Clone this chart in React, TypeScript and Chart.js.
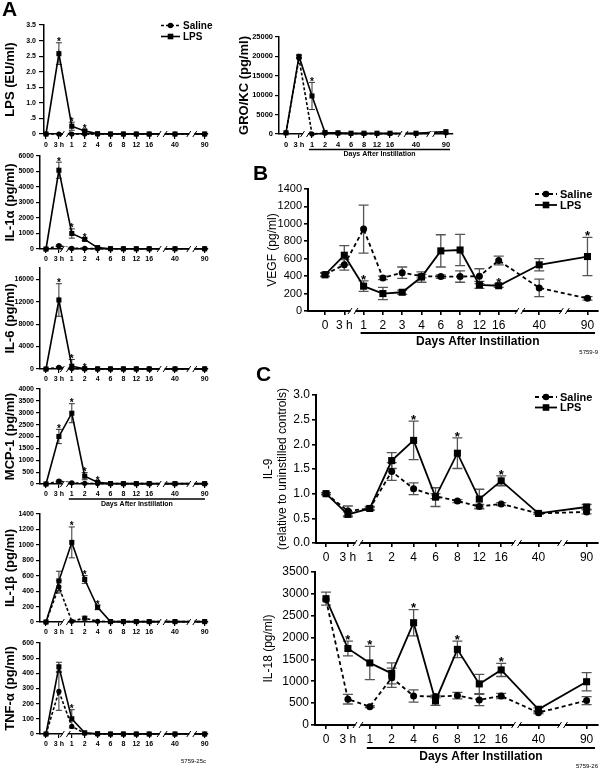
import React, { useEffect, useRef } from 'react';
import { Chart, registerables } from 'chart.js';
Chart.register(...registerables);

const FONT = '"Liberation Sans", Arial, Helvetica, sans-serif';

// ---------- categories / tick labels ----------
const seriesNames = ['Saline', 'LPS'];
const daysA = ['0', '3 h', '1', '2', '4', '6', '8', '12', '16', '40', '90'];
const daysB = ['0', '3 h', '1', '2', '3', '4', '6', '8', '12', '16', '40', '90'];
// slot positions on the broken time axis
const slotsA = [0, 1, 2, 3, 4, 5, 6, 7, 8, 10, 12.3];
const slotsB = [0, 1, 2, 3, 4, 5, 6, 7, 8, 9, 11.1, 13.6];
const slotsC = [0, 1, 2, 3, 4, 5, 6, 7, 8, 9.7, 11.9];
const xTitle = 'Days After Instillation';

// ---------- Panel A ----------
const lpsSaline = [0, 0, 0, 0, 0, 0, 0, 0, 0, 0, 0];
const lpsSalineErr = [0, 0, 0, 0, 0, 0, 0, 0, 0, 0, 0];
const lpsLps = [0, 2.58, 0.25, 0.1, 0.01, 0, 0, 0, 0, 0, 0];
const lpsLpsErr = [0, 0.35, 0.13, 0.03, 0, 0, 0, 0, 0, 0, 0];
const lpsStars = [1, 2, 3];

const il1aSaline = [0, 214, 40, 40, 20, 15, 15, 15, 15, 15, 15];
const il1aSalineErr = [0, 60, 30, 20, 0, 0, 0, 0, 0, 0, 0];
const il1aLps = [0, 5080, 1000, 620, 90, 20, 15, 15, 15, 15, 15];
const il1aLpsErr = [0, 520, 300, 80, 30, 0, 0, 0, 0, 0, 0];
const il1aStars = [1, 2, 3];

const il6Saline = [0, 300, 80, 40, 20, 20, 20, 20, 20, 20, 20];
const il6SalineErr = [0, 100, 0, 0, 0, 0, 0, 0, 0, 0, 0];
const il6Lps = [0, 12300, 500, 50, 20, 20, 20, 20, 20, 20, 20];
const il6LpsErr = [0, 2900, 1200, 50, 0, 0, 0, 0, 0, 0, 0];
const il6Stars = [1, 2, 3];

const mcpSaline = [0, 120, 50, 30, 20, 15, 15, 15, 15, 15, 15];
const mcpSalineErr = [0, 40, 20, 0, 0, 0, 0, 0, 0, 0, 0];
const mcpLps = [0, 2000, 2980, 330, 70, 20, 15, 15, 15, 15, 15];
const mcpLpsErr = [0, 300, 400, 150, 40, 0, 0, 0, 0, 0, 0];
const mcpStars = [1, 2, 3, 4];

const il1bSaline = [0, 455, 10, 50, 10, 5, 5, 5, 5, 5, 5];
const il1bSalineErr = [0, 80, 0, 25, 0, 0, 0, 0, 0, 0, 0];
const il1bLps = [0, 533, 1032, 551, 190, 5, 5, 5, 5, 5, 5];
const il1bLpsErr = [0, 125, 200, 50, 30, 0, 0, 0, 0, 0, 0];
const il1bStars = [2, 3, 4];

const tnfSaline = [0, 281, 50, 5, 0, 0, 0, 0, 0, 0, 0];
const tnfSalineErr = [0, 125, 0, 0, 0, 0, 0, 0, 0, 0, 0];
const tnfLps = [0, 443, 100, 8, 2, 0, 0, 0, 0, 0, 0];
const tnfLpsErr = [0, 30, 60, 0, 0, 0, 0, 0, 0, 0, 0];
const tnfStars = [2];

const groSaline = [300, 19500, 0, 200, 200, 100, 100, 100, 100, 100, 300];
const groSalineErr = [0, 0, 0, 0, 0, 0, 0, 0, 0, 0, 0];
const groLps = [300, 20000, 9800, 400, 300, 200, 200, 200, 200, 200, 600];
const groLpsErr = [0, 300, 3500, 100, 0, 0, 0, 0, 0, 0, 0];
const groStars = [2];

// ---------- Panel B ----------
const vegfSaline = [420, 530, 940, 380, 440, 400, 395, 395, 400, 580, 265, 145];
const vegfSalineErr = [20, 60, 275, 20, 65, 20, 20, 65, 85, 50, 100, 20];
const vegfLps = [415, 640, 285, 200, 215, 390, 690, 700, 300, 290, 530, 625];
const vegfLpsErr = [20, 110, 60, 70, 25, 60, 185, 180, 40, 20, 70, 220];
const vegfStars = [2, 9, 11];

// ---------- Panel C ----------
const il9Saline = [1.0, 0.65, 0.7, 1.45, 1.1, 0.95, 0.85, 0.74, 0.79, 0.6, 0.63];
const il9SalineErr = [0.02, 0.1, 0.03, 0.18, 0.12, 0.05, 0.03, 0.04, 0.03, 0.02, 0.04];
const il9Lps = [1.0, 0.58, 0.7, 1.67, 2.08, 0.93, 1.82, 0.89, 1.26, 0.6, 0.73];
const il9LpsErr = [0.02, 0.05, 0.04, 0.16, 0.39, 0.19, 0.31, 0.2, 0.1, 0.02, 0.05];
const il9Stars = [4, 6, 8];

const il18Saline = [2870, 590, 420, 1080, 665, 650, 672, 573, 665, 283, 558];
const il18SalineErr = [0, 110, 20, 220, 140, 30, 75, 130, 60, 20, 90];
const il18Lps = [2890, 1750, 1420, 1180, 2340, 550, 1730, 940, 1260, 360, 990];
const il18LpsErr = [150, 170, 380, 240, 300, 100, 190, 220, 150, 30, 210];
const il18Stars = [1, 2, 4, 6, 8];

// ---------- styles ----------
const small = {
  big: false,
  tickFont: { family: FONT, size: 7, weight: 'bold' },
  titleFont: { family: FONT, size: 13, weight: 'bold' },
  titlePad: 2.5,
  tickLen: 4, xPad: 2, yPad: 2,
  axisW: 1.5, lineW: 1.6, dash: [3, 2],
  rectR: 3.6, circR: 2.6, cap: 3, errColor: '#333',
  starFont: `bold 10px ${FONT}`, starGap: 2,
  ulW: 1.5, ulFont: `bold 7px ${FONT}`,
};
const large = {
  big: true,
  tickFont: { family: FONT, size: 12, weight: 'normal' },
  titleFont: { family: FONT, size: 12, weight: 'normal' },
  titlePad: 4,
  tickLen: 4, xPad: 3, yPad: 2,
  axisW: 2, lineW: 1.8, dash: [4, 3],
  rectR: 5, circR: 3.5, cap: 5, errColor: '#555',
  starFont: `bold 13px ${FONT}`, starGap: 3,
  ulW: 2, ulFont: `bold 12px ${FONT}`,
};

type Spec = any;

function mk(st: any, o: any): Spec {
  return { ...st, ...o };
}

const aX = { zeroPx: 46, unitPx: 12.9, slots: slotsA, labels: daysA, breaks: [1.5, 9, 11.3] };

const specs: Spec[] = [
  mk(small, {
    ...aX, box: [0, 0, 215, 152], area: [44, 25, 208, 134],
    tickLen: 5, yPad: 3,
    yMax: 3.5, yStep: 0.5, yFmt: (v: number) => (v === 0 ? '0' : v === 0.5 ? '.5' : v.toFixed(1)),
    title: 'LPS (EU/ml)',
    series: [
      { name: 1, data: lpsLps, err: lpsLpsErr, stars: lpsStars },
      { name: 0, data: lpsSaline, err: lpsSalineErr },
    ],
    legend: { x: 161, y: 25.5, dy: 11, w: 19, r: 2.8, font: `bold 10px ${FONT}` },
  }),
  mk(small, {
    ...aX, box: [0, 146, 215, 120], area: [40, 156, 208, 249],
    yMax: 6000, yStep: 1000, title: 'IL-1\u03b1 (pg/ml)',
    series: [
      { name: 1, data: il1aLps, err: il1aLpsErr, stars: il1aStars },
      { name: 0, data: il1aSaline, err: il1aSalineErr },
    ],
  }),
  mk(small, {
    ...aX, box: [0, 258, 215, 127], area: [40, 268, 208, 369],
    yMax: 18000, yStep: 2000, title: 'IL-6 (pg/ml)',
    series: [
      { name: 1, data: il6Lps, err: il6LpsErr, stars: il6Stars },
      { name: 0, data: il6Saline, err: il6SalineErr },
    ],
  }),
  mk(small, {
    ...aX, box: [0, 379, 215, 132], area: [40, 389, 208, 484],
    yMax: 4000, yStep: 500, title: 'MCP-1 (pg/ml)',
    series: [
      { name: 1, data: mcpLps, err: mcpLpsErr, stars: mcpStars },
      { name: 0, data: mcpSaline, err: mcpSalineErr },
    ],
    underline: { dy: 15, textDy: 20.5 },
  }),
  mk(small, {
    ...aX, box: [0, 504, 215, 134], area: [40, 514, 208, 622],
    yMax: 1400, yStep: 200, title: 'IL-1\u03b2 (pg/ml)',
    series: [
      { name: 1, data: il1bLps, err: il1bLpsErr, stars: il1bStars },
      { name: 0, data: il1bSaline, err: il1bSalineErr },
    ],
  }),
  mk(small, {
    ...aX, box: [0, 633, 215, 118], area: [40, 643, 208, 734],
    yMax: 600, yStep: 100, title: 'TNF-\u03b1 (pg/ml)',
    series: [
      { name: 1, data: tnfLps, err: tnfLpsErr, stars: tnfStars },
      { name: 0, data: tnfSaline, err: tnfSalineErr },
    ],
  }),
  mk(small, {
    zeroPx: 286, unitPx: 13, slots: slotsA, labels: daysA, breaks: [1.5, 9, 11.2],
    box: [235, 27, 225, 134], area: [279, 37, 453, 134],
    tickFont: { family: FONT, size: 7.5, weight: 'bold' },
    titleFont: { family: FONT, size: 13, weight: 'bold' },
    titlePad: 2,
    yMax: 25000, yStep: 5000, title: 'GRO/KC (pg/ml)',
    series: [
      { name: 1, data: groLps, err: groLpsErr, stars: groStars },
      { name: 0, data: groSaline, err: groSalineErr },
    ],
    underline: { dy: 15.5, textDy: 20.5 },
  }),
  mk(large, {
    zeroPx: 325, unitPx: 19.3, slots: slotsB, labels: daysB, breaks: [1.45, 10.1, 12.4],
    box: [258, 170, 342, 190], area: [308, 189, 598, 311],
    tickFont: { family: FONT, size: 11, weight: 'normal' },
    titlePad: 7,
    yMax: 1400, yStep: 200, title: 'VEGF (pg/ml)',
    series: [
      { name: 1, data: vegfLps, err: vegfLpsErr, stars: vegfStars },
      { name: 0, data: vegfSaline, err: vegfSalineErr },
    ],
    xFont: { family: FONT, size: 12, weight: 'normal' },
    underline: { dy: 22, textDy: 31 },
    legend: { x: 535, y: 194, dy: 11, w: 22, r: 3.3, font: `bold 11px ${FONT}` },
  }),
  mk(large, {
    zeroPx: 326, unitPx: 21.9, slots: slotsC, labels: daysA, breaks: [1.46, 8.7, 10.8],
    box: [258, 385, 342, 180], area: [316, 395, 598, 543],
    titlePad: 3.5,
    yMax: 3, yStep: 0.5, yFmt: (v: number) => v.toFixed(1),
    title: ['IL-9', '(relative to uninstilled controls)'],
    series: [
      { name: 1, data: il9Lps, err: il9LpsErr, stars: il9Stars },
      { name: 0, data: il9Saline, err: il9SalineErr },
    ],
    legend: { x: 535, y: 397, dy: 10.5, w: 22, r: 3.3, font: `bold 11px ${FONT}` },
  }),
  mk(large, {
    zeroPx: 326, unitPx: 21.9, slots: slotsC, labels: daysA, breaks: [1.46, 8.7, 10.8],
    box: [258, 562, 342, 207], area: [315, 572, 598, 725],
    titlePad: 3.5,
    yMax: 3500, yStep: 500, title: 'IL-18 (pg/ml)',
    series: [
      { name: 1, data: il18Lps, err: il18LpsErr, stars: il18Stars },
      { name: 0, data: il18Saline, err: il18SalineErr },
    ],
    underline: { dy: 23, textDy: 32 },
  }),
];

function decor(s: Spec) {
  return {
    id: 'decor',
    beforeDatasetsDraw(chart: any) {
      const ctx = chart.ctx;
      const xs = chart.scales.x;
      const ys = chart.scales.y;
      ctx.save();
      ctx.strokeStyle = s.errColor;
      ctx.lineWidth = s.big ? 1.3 : 1;
      s.series.forEach((se: any) =>
        se.data.forEach((v: number, i: number) => {
          const e = se.err[i];
          if (!e) return;
          const x = xs.getPixelForValue(s.slots[i]);
          const y1 = ys.getPixelForValue(v + e);
          const y0 = ys.getPixelForValue(Math.max(0, v - e));
          ctx.beginPath();
          ctx.moveTo(x, y0);
          ctx.lineTo(x, y1);
          ctx.moveTo(x - s.cap, y1);
          ctx.lineTo(x + s.cap, y1);
          ctx.moveTo(x - s.cap, y0);
          ctx.lineTo(x + s.cap, y0);
          ctx.stroke();
        })
      );
      ctx.restore();
    },
    afterDraw(chart: any) {
      const ctx = chart.ctx;
      const xs = chart.scales.x;
      const ys = chart.scales.y;
      const ca = chart.chartArea;
      ctx.save();
      // axis breaks
      s.breaks.forEach((b: number) => {
        const x = xs.getPixelForValue(b);
        const y = ca.bottom;
        ctx.fillStyle = '#fff';
        ctx.fillRect(x - 2.5, y - 2, 5, 4);
        ctx.strokeStyle = '#000';
        ctx.lineWidth = 1;
        ctx.beginPath();
        ctx.moveTo(x - 5, y + 3);
        ctx.lineTo(x - 1, y - 3);
        ctx.moveTo(x + 1, y + 3);
        ctx.lineTo(x + 5, y - 3);
        ctx.stroke();
      });
      // significance stars
      ctx.fillStyle = '#000';
      ctx.font = s.starFont;
      ctx.textAlign = 'center';
      ctx.textBaseline = 'alphabetic';
      const fs = s.big ? 13 : 10;
      s.series.forEach((se: any) =>
        (se.stars || []).forEach((i: number) => {
          const x = xs.getPixelForValue(s.slots[i]);
          const top = ys.getPixelForValue(se.data[i] + (se.err[i] || 0)) - (se.err[i] ? 0 : s.big ? 5 : 3);
          ctx.fillText('*', x, top - s.starGap + 0.45 * fs);
        })
      );
      // underline + axis caption
      if (s.underline) {
        const x0 = xs.getPixelForValue(s.slots[2]) - 3;
        const x1 = ca.right - 3;
        const y = ca.bottom + s.underline.dy;
        ctx.strokeStyle = '#000';
        ctx.lineWidth = s.ulW;
        ctx.beginPath();
        ctx.moveTo(x0, y);
        ctx.lineTo(x1, y);
        ctx.stroke();
        ctx.font = s.ulFont;
        ctx.textBaseline = 'middle';
        ctx.fillText(xTitle, (x0 + x1) / 2, ca.bottom + s.underline.textDy);
      }
      // legend
      if (s.legend) {
        const lg = s.legend;
        const ox = s.box[0];
        const oy = s.box[1];
        [0, 1].forEach((k) => {
          const sal = k === 0;
          const y = lg.y + k * lg.dy - oy;
          const x0 = lg.x - ox;
          const x1 = x0 + lg.w;
          ctx.strokeStyle = '#000';
          ctx.lineWidth = s.lineW;
          ctx.setLineDash(sal ? s.dash : []);
          ctx.beginPath();
          ctx.moveTo(x0, y);
          ctx.lineTo(x1, y);
          ctx.stroke();
          ctx.setLineDash([]);
          const cx = (x0 + x1) / 2;
          ctx.fillStyle = '#000';
          if (sal) {
            ctx.beginPath();
            ctx.arc(cx, y, lg.r, 0, Math.PI * 2);
            ctx.fill();
          } else {
            ctx.fillRect(cx - lg.r, y - lg.r, 2 * lg.r, 2 * lg.r);
          }
          ctx.font = lg.font;
          ctx.textAlign = 'left';
          ctx.textBaseline = 'middle';
          ctx.fillText(seriesNames[k], x1 + 3, y + 0.5);
        });
      }
      ctx.restore();
    },
  };
}

function buildConfig(s: Spec): any {
  const [bx, by, bw, bh] = s.box;
  const [L, T, R, B] = s.area;
  const datasets = s.series.map((se: any) => {
    const sal = se.name === 0;
    return {
      label: seriesNames[se.name],
      data: se.data.map((v: number, i: number) => ({ x: s.slots[i], y: v })),
      borderColor: '#000',
      backgroundColor: '#000',
      borderWidth: s.lineW,
      borderDash: sal ? s.dash : [],
      pointStyle: sal ? 'circle' : 'rect',
      pointRadius: sal ? s.circR : s.rectR,
      pointBorderWidth: 0,
      pointBackgroundColor: '#000',
      pointBorderColor: '#000',
      tension: 0,
      clip: false,
    };
  });
  const gridOpt = { drawOnChartArea: false, drawTicks: true, tickLength: s.tickLen, color: '#000', lineWidth: s.big ? 1.6 : 1.2 };
  const borderOpt = { display: true, color: '#000', width: s.axisW };
  return {
    type: 'line',
    data: { datasets },
    options: {
      responsive: false,
      animation: false,
      events: [],
      layout: { padding: { top: T - by, right: bx + bw - R, left: 0, bottom: 0 }, autoPadding: false },
      plugins: { legend: { display: false }, tooltip: { enabled: false }, title: { display: false } },
      scales: {
        x: {
          type: 'linear',
          min: (L - s.zeroPx) / s.unitPx,
          max: (R - s.zeroPx) / s.unitPx,
          afterBuildTicks: (sc: any) => {
            sc.ticks = s.slots.map((v: number) => ({ value: v }));
          },
          afterFit: (sc: any) => {
            sc.height = by + bh - B;
          },
          ticks: {
            autoSkip: false,
            maxRotation: 0,
            minRotation: 0,
            padding: s.xPad,
            color: '#000',
            font: s.xFont || s.tickFont,
            callback: (_v: any, i: number) => s.labels[i],
          },
          grid: gridOpt,
          border: borderOpt,
        },
        y: {
          type: 'linear',
          min: 0,
          max: s.yMax,
          afterFit: (sc: any) => {
            sc.width = L - bx;
          },
          ticks: {
            stepSize: s.yStep,
            padding: s.yPad,
            color: '#000',
            font: s.tickFont,
            callback: (v: number) => (s.yFmt ? s.yFmt(v) : String(v)),
          },
          grid: gridOpt,
          border: borderOpt,
          title: {
            display: true,
            text: s.title,
            color: '#000',
            font: s.titleFont,
            padding: { top: s.titlePad, bottom: 0 },
          },
        },
      },
    },
    plugins: [decor(s)],
  };
}

function ChartBox({ spec }: { spec: Spec }) {
  const ref = useRef<HTMLCanvasElement>(null);
  useEffect(() => {
    const chart = new Chart(ref.current as HTMLCanvasElement, buildConfig(spec));
    return () => chart.destroy();
  }, [spec]);
  const [x, y, w, h] = spec.box;
  return (
    <canvas
      ref={ref}
      width={w}
      height={h}
      style={{ position: 'absolute', left: x, top: y, width: w, height: h }}
    />
  );
}

const letter = (t: string, x: number, y: number) => (
  <div
    style={{
      position: 'absolute', left: x, top: y, fontFamily: FONT, fontWeight: 'bold',
      fontSize: 21, lineHeight: '21px', color: '#000',
    }}
  >
    {t}
  </div>
);

const code = (t: string, right: number, y: number) => (
  <div
    style={{
      position: 'absolute', right, top: y, fontFamily: FONT, fontSize: 6,
      lineHeight: '6px', color: '#000',
    }}
  >
    {t}
  </div>
);

export default function App() {
  return (
    <div style={{ position: 'absolute', left: 0, top: 0, width: 600, height: 769, background: '#fff', overflow: 'hidden' }}>
      {specs.map((s, i) => (
        <ChartBox key={i} spec={s} />
      ))}
      {letter('A', 2, -2)}
      {letter('B', 253, 162)}
      {letter('C', 256, 363)}
      {code('5759-25c', 394, 758)}
      {code('5759-9', 2, 349)}
      {code('5759-26', 2, 763)}
    </div>
  );
}
